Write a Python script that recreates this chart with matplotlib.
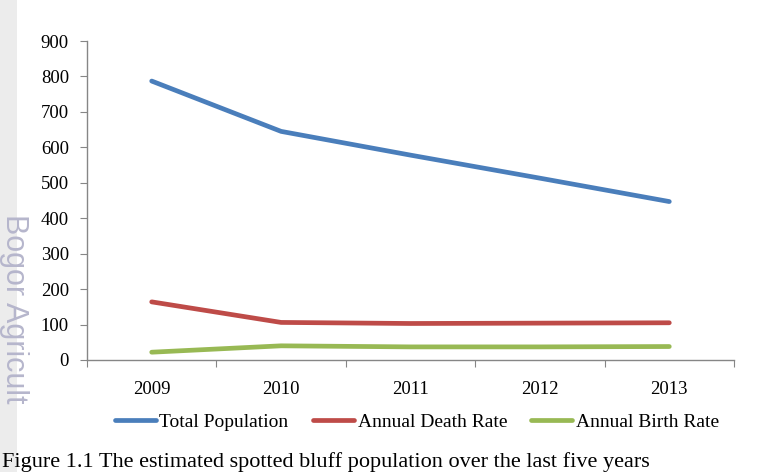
import matplotlib
matplotlib.use("Agg")
import matplotlib.pyplot as plt
from matplotlib.patches import Rectangle

years = ["2009", "2010", "2011", "2012", "2013"]
total_population = [787, 645, 578, 513, 447]
annual_death_rate = [164, 106, 103, 104, 105]
annual_birth_rate = [22, 40, 37, 37, 38]

plt.rcParams['font.family'] = ['Liberation Serif', 'DejaVu Serif']

fig = plt.figure(figsize=(7.64, 4.72), dpi=100)

# grey page strip with the watermark on the left edge
fig.patches.append(Rectangle((0, 0), 17 / 764, 1, transform=fig.transFigure,
                             facecolor='#ececec', edgecolor='none', zorder=0))
fig.text(14 / 764, 1 - 214 / 472, "Bogor Agricult", rotation=-90,
         ha='center', va='top', fontsize=22, color='#b6b6cc',
         family=['Liberation Sans', 'DejaVu Sans'])

ax = fig.add_axes([87 / 764, 1 - 360 / 472, 647 / 764, 319 / 472])
x = list(range(len(years)))
ax.plot(x, total_population, color='#4A7EBB', lw=3.4, solid_capstyle='round', label='Total Population')
ax.plot(x, annual_death_rate, color='#BE4B48', lw=3.4, solid_capstyle='round', label='Annual Death Rate')
ax.plot(x, annual_birth_rate, color='#98B954', lw=3.4, solid_capstyle='round', label='Annual Birth Rate')

ax.set_xlim(-0.5, len(years) - 0.5)
ax.set_ylim(0, 900)
ax.set_yticks(range(0, 901, 100))
ax.set_xticks([i - 0.5 for i in range(len(years) + 1)])
ax.set_xticklabels([])
ax.set_xticks(x, minor=True)
ax.set_xticklabels(years, minor=True)
ax.tick_params(axis='x', which='major', direction='out', length=5, color='#868686')
ax.tick_params(axis='x', which='minor', length=0, pad=15, labelsize=13.5)
ax.tick_params(axis='y', direction='out', length=5, color='#868686', labelsize=13.5, pad=8)

for s in ['top', 'right']:
    ax.spines[s].set_visible(False)
for s in ['left', 'bottom']:
    ax.spines[s].set_color('#868686')
    ax.spines[s].set_linewidth(1.0)

fig.legend(loc='center', bbox_to_anchor=(417 / 764, 1 - 422 / 472), ncol=3,
           frameon=False, fontsize=14, handlelength=2.1, handletextpad=0.2,
           columnspacing=1.25)

fig.text(2 / 764, 5 / 472,
         "Figure 1.1 The estimated spotted bluff population over the last five years",
         ha='left', va='baseline', fontsize=16)

fig.savefig("out.png", dpi=100)
